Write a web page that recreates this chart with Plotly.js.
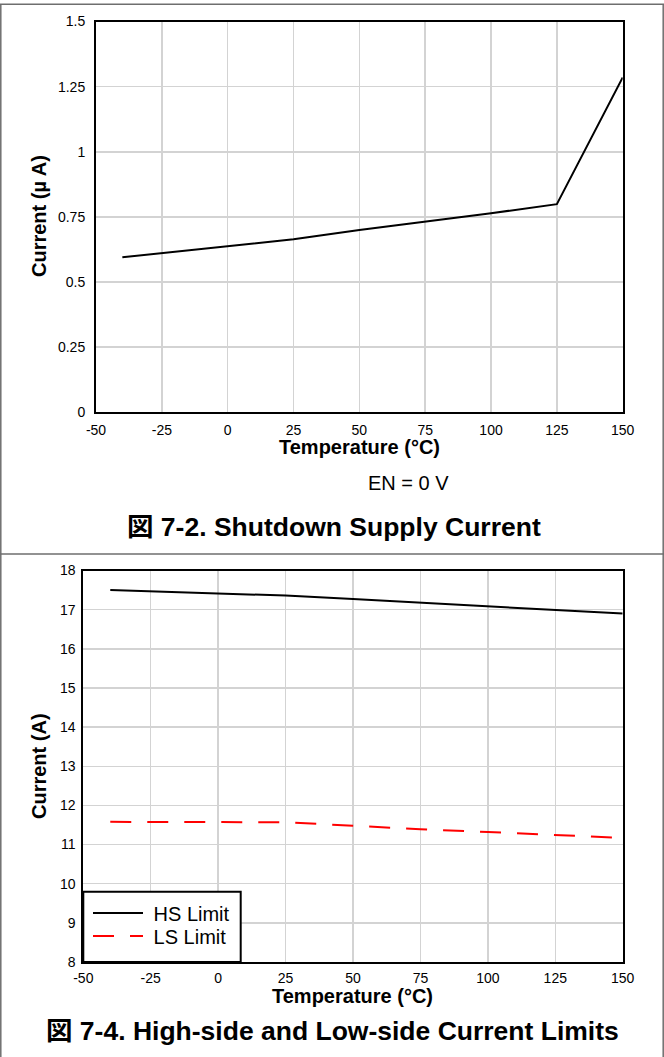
<!DOCTYPE html>
<html>
<head>
<meta charset="utf-8">
<script src="https://cdn.plot.ly/plotly-3.0.1.min.js"></script>
<style>html,body{margin:0;padding:0;background:#fff;}#chart{width:664px;height:1057px;}</style>
</head>
<body>
<div id="chart"></div>
<script>
// ---- data ----
const tempShutdown = [-40, 0, 25, 50, 75, 100, 125, 150];
const currentShutdown = [0.595, 0.637, 0.664, 0.700, 0.732, 0.764, 0.799, 1.285];

const tempLimits = [-40, 0, 25, 50, 75, 100, 125, 150];
const hsLimit = [17.50, 17.42, 17.36, 17.27, 17.18, 17.09, 17.00, 16.90];
const lsLimit = [11.58, 11.575, 11.57, 11.48, 11.39, 11.32, 11.24, 11.17];

const seriesNames = ["HS Limit", "LS Limit"];

const xTickVals = [-50, -25, 0, 25, 50, 75, 100, 125, 150];
const xTickText = ["-50", "-25", "0", "25", "50", "75", "100", "125", "150"];
const yTickValsTop = [0, 0.25, 0.5, 0.75, 1, 1.25, 1.5];
const yTickTextTop = ["0", "0.25", "0.5", "0.75", "1", "1.25", "1.5"];
const yTickValsBottom = [8, 9, 10, 11, 12, 13, 14, 15, 16, 17, 18];
const yTickTextBottom = ["8", "9", "10", "11", "12", "13", "14", "15", "16", "17", "18"];

const xTitle = "Temperature (°C)";
const yTitleTop = "Current (µ A)";
const yTitleBottom = "Current (A)";
const noteTop = "EN = 0 V";
const captionTop = "図 7-2. Shutdown Supply Current";
const captionBottom = "図 7-4. High-side and Low-side Current Limits";

// ---- layout helpers (pixel -> paper) ----
const W = 664, H = 1057;
const px = v => v / W;
const py = v => 1 - v / H;
const FONT = "Liberation Sans, Arial, Noto Sans CJK JP, sans-serif";
const NB = "\u00a0";

const traces = [
  {x: tempShutdown, y: currentShutdown, xaxis: 'x', yaxis: 'y', mode: 'lines',
   line: {color: '#000', width: 2}, showlegend: false, hoverinfo: 'skip'},
  {x: tempLimits, y: hsLimit, xaxis: 'x2', yaxis: 'y2', mode: 'lines', name: NB + seriesNames[0],
   legend: 'legend', line: {color: '#000', width: 2}},
  {x: tempLimits, y: lsLimit, xaxis: 'x2', yaxis: 'y2', mode: 'lines', name: NB + seriesNames[1],
   legend: 'legend2', line: {color: '#ff0000', width: 2, dash: '21px,16px'}}
];

const axisCommon = {
  showgrid: true, gridcolor: '#d3d3d3', gridwidth: 1.5,
  showline: true, linecolor: '#000', linewidth: 2, mirror: true,
  ticks: '', zeroline: false, fixedrange: true, tickmode: 'array',
  tickfont: {family: FONT, size: 14, color: '#000'}
};

const legendCommon = {
  xanchor: 'left', yanchor: 'middle',
  bgcolor: 'rgba(0,0,0,0)', borderwidth: 0,
  font: {family: FONT, size: 20, color: '#000'},
  itemwidth: 50
};

const layout = {
  width: W, height: H,
  margin: {l: 0, r: 0, t: 0, b: 0},
  paper_bgcolor: '#fff', plot_bgcolor: '#fff',
  font: {family: FONT, color: '#000'},
  xaxis: Object.assign({}, axisCommon, {domain: [px(96), px(622.7)], range: [-50, 150], tickvals: xTickVals, ticktext: xTickText, anchor: 'y', ticklabelstandoff: 4}),
  yaxis: Object.assign({}, axisCommon, {domain: [py(412.3), py(21.5)], range: [0, 1.5], tickvals: yTickValsTop, ticktext: yTickTextTop, anchor: 'x', ticklabelstandoff: 6}),
  xaxis2: Object.assign({}, axisCommon, {domain: [px(83.3), px(622.7)], range: [-50, 150], tickvals: xTickVals, ticktext: xTickText, anchor: 'y2', ticklabelstandoff: 2}),
  yaxis2: Object.assign({}, axisCommon, {domain: [py(962), py(570.5)], range: [8, 18], tickvals: yTickValsBottom, ticktext: yTickTextBottom, anchor: 'x2', ticklabelstandoff: 3}),
  showlegend: true,
  legend: Object.assign({}, legendCommon, {x: px(88), y: py(913)}),
  legend2: Object.assign({}, legendCommon, {x: px(88), y: py(936)}),
  shapes: [
    // outer frame and separator
    {type: 'line', xref: 'paper', yref: 'paper', x0: 0, x1: 1, y0: py(4.3), y1: py(4.3), line: {color: '#6e6e6e', width: 1.5}},
    {type: 'line', xref: 'paper', yref: 'paper', x0: px(0.8), x1: px(0.8), y0: 0, y1: py(4.3), line: {color: '#6e6e6e', width: 1.5}},
    {type: 'line', xref: 'paper', yref: 'paper', x0: px(663.2), x1: px(663.2), y0: 0, y1: py(4.3), line: {color: '#6e6e6e', width: 1.5}},
    {type: 'line', xref: 'paper', yref: 'paper', x0: 0, x1: 1, y0: py(554), y1: py(554), line: {color: '#6e6e6e', width: 1.5}},
    // legend box
    {type: 'rect', xref: 'paper', yref: 'paper', layer: 'above', x0: px(83.3), x1: px(240.7), y0: py(962), y1: py(891.7),
     fillcolor: '#fff', line: {color: '#000', width: 2}}
  ],
  annotations: [
    {text: '<b>' + xTitle + '</b>', xref: 'paper', yref: 'paper', x: px(359.4), y: py(447), xanchor: 'center', yanchor: 'middle', showarrow: false, font: {family: FONT, size: 20}},
    {text: '<b>' + yTitleTop + '</b>', xref: 'paper', yref: 'paper', x: px(39), y: py(216), xanchor: 'center', yanchor: 'middle', textangle: -90, showarrow: false, font: {family: FONT, size: 20}},
    {text: noteTop, xref: 'paper', yref: 'paper', x: px(408), y: py(483), xanchor: 'center', yanchor: 'middle', showarrow: false, font: {family: FONT, size: 20}},
    {text: '<b>' + captionTop + '</b>', xref: 'paper', yref: 'paper', x: px(334), y: py(527), xanchor: 'center', yanchor: 'middle', showarrow: false, font: {family: FONT, size: 26.5}},
    {text: '<b>' + yTitleBottom + '</b>', xref: 'paper', yref: 'paper', x: px(39), y: py(766), xanchor: 'center', yanchor: 'middle', textangle: -90, showarrow: false, font: {family: FONT, size: 20}},
    {text: '<b>' + xTitle + '</b>', xref: 'paper', yref: 'paper', x: px(353), y: py(996), xanchor: 'center', yanchor: 'middle', showarrow: false, font: {family: FONT, size: 20}},
    {text: '<b>' + captionBottom + '</b>', xref: 'paper', yref: 'paper', x: px(332), y: py(1031), xanchor: 'center', yanchor: 'middle', showarrow: false, font: {family: FONT, size: 26.5}}
  ]
};

Plotly.newPlot('chart', traces, layout, {staticPlot: true, displayModeBar: false});
</script>
</body>
</html>
